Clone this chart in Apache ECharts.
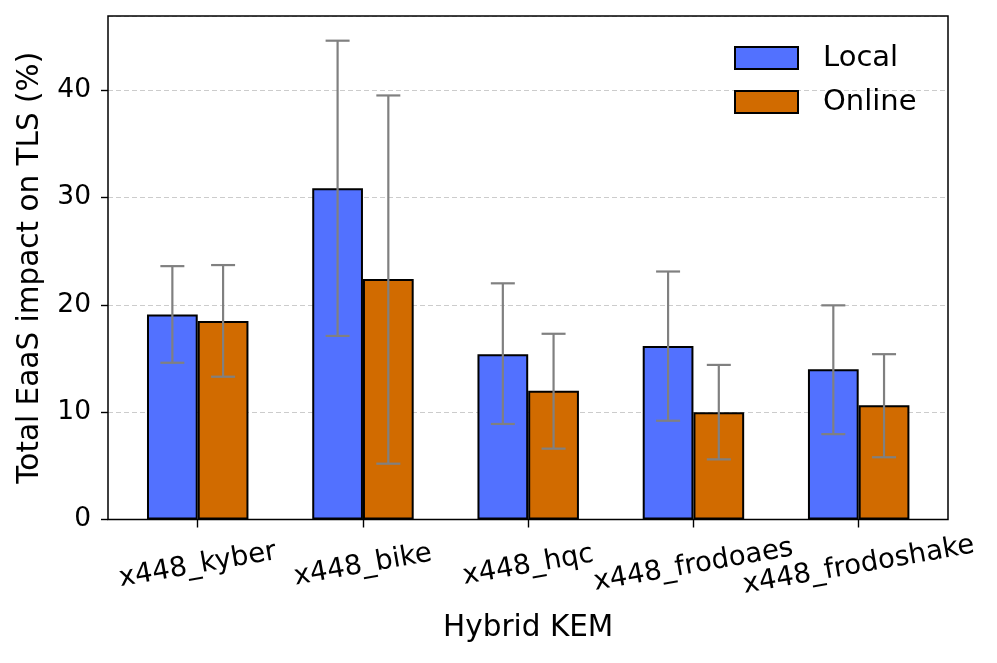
<!DOCTYPE html>
<html>
<head>
<meta charset="utf-8">
<script src="https://cdn.jsdelivr.net/npm/echarts@6/dist/echarts.min.js"></script>
<style>html,body{margin:0;padding:0;background:#fff;}#c{width:997px;height:663px;}</style>
</head>
<body>
<div id="c"></div>
<script>
const categories = ['x448_kyber', 'x448_bike', 'x448_hqc', 'x448_frodoaes', 'x448_frodoshake'];
const localValues = [19.1, 30.85, 15.4, 16.15, 14.0];
const onlineValues = [18.5, 22.4, 12.0, 10.0, 10.65];
const localLow = [14.6, 17.1, 8.9, 9.2, 7.95];
const localHigh = [23.6, 44.6, 22.0, 23.1, 19.95];
const onlineLow = [13.3, 5.2, 6.6, 5.6, 5.8];
const onlineHigh = [23.7, 39.5, 17.3, 14.4, 15.4];
const yTicks = [0, 10, 20, 30, 40];

const FONT = 'DejaVu Sans';
const BAR_FRAC = 0.307;
const YMAX = 46.9;

function errData(lo, hi) { return categories.map((c, i) => [i, lo[i], hi[i]]); }
function errRender(sign) {
  return function (params, api) {
    const i = api.value(0);
    const band = api.size([1, 0])[0];
    const off = sign * band * BAR_FRAC / 2;
    const top = api.coord([i, api.value(2)]);
    const bot = api.coord([i, api.value(1)]);
    const x = top[0] + off;
    const cap = 12;
    const st = { stroke: '#808080', lineWidth: 2.2 };
    return {
      type: 'group',
      children: [
        { type: 'line', shape: { x1: x, y1: top[1], x2: x, y2: bot[1] }, style: st },
        { type: 'line', shape: { x1: x - cap, y1: top[1], x2: x + cap, y2: top[1] }, style: st },
        { type: 'line', shape: { x1: x - cap, y1: bot[1], x2: x + cap, y2: bot[1] }, style: st }
      ]
    };
  };
}

const chart = echarts.init(document.getElementById('c'), null, { renderer: 'canvas' });
chart.setOption({
  animation: false,
  backgroundColor: '#fff',
  textStyle: { fontFamily: FONT },
  grid: [
    { left: 108, right: 49, top: 16, bottom: 143.5, show: true, z: 3, borderColor: '#000', borderWidth: 1.5, backgroundColor: 'transparent', containLabel: false },
    { left: 115.1, right: 55.7, top: 16, bottom: 143.5, containLabel: false }
  ],
  legend: {
    orient: 'vertical',
    left: 734, top: 43.5,
    padding: 0,
    itemWidth: 63, itemHeight: 22, itemGap: 15,
    icon: 'rect',
    data: ['Local', 'Online'],
    textStyle: { fontFamily: FONT, fontSize: 29, color: '#000', lineHeight: 22, padding: [0, 0, 0, 20] }
  },
  xAxis: [
    { gridIndex: 0, type: 'category', data: categories, show: false },
    {
      gridIndex: 1, type: 'category', data: categories,
      axisLine: { show: false },
      axisTick: { show: true, alignWithLabel: true, length: 8, lineStyle: { color: '#000', width: 1.4 } },
      axisLabel: { interval: 0, rotate: 10, align: 'center', verticalAlign: 'middle', margin: 46, fontFamily: FONT, fontSize: 27.5, color: '#000' },
      name: 'Hybrid KEM', nameLocation: 'middle', nameGap: 94,
      nameTextStyle: { fontFamily: FONT, fontSize: 29.5, color: '#000' }
    }
  ],
  yAxis: [
    {
      gridIndex: 0, type: 'value', min: 0, max: YMAX, interval: 10,
      axisLine: { show: false },
      axisTick: { show: true, length: 7, lineStyle: { color: '#000', width: 1.4 } },
      axisLabel: { margin: 17, fontFamily: FONT, fontSize: 26.5, color: '#000', showMaxLabel: false,
        formatter: v => (yTicks.indexOf(v) >= 0 ? String(v) : '') },
      splitLine: { show: true, lineStyle: { color: '#cccccc', type: [5, 3], width: 1 } },
      name: 'Total EaaS impact on TLS (%)', nameLocation: 'middle', nameGap: 63, nameRotate: 90,
      nameTextStyle: { fontFamily: FONT, fontSize: 29.5, color: '#000' }
    },
    { gridIndex: 1, type: 'value', min: 0, max: YMAX, show: false, splitLine: { show: false } }
  ],
  series: [
    {
      name: 'Local', type: 'bar', xAxisIndex: 1, yAxisIndex: 1,
      data: localValues, barWidth: (BAR_FRAC * 100) + '%', barGap: '0%',
      itemStyle: { color: '#5271ff', borderColor: '#000', borderWidth: 2 }
    },
    {
      name: 'Online', type: 'bar', xAxisIndex: 1, yAxisIndex: 1,
      data: onlineValues, barWidth: (BAR_FRAC * 100) + '%', barGap: '0%',
      itemStyle: { color: '#d16b00', borderColor: '#000', borderWidth: 2 }
    },
    {
      name: 'LocalErr', type: 'custom', xAxisIndex: 1, yAxisIndex: 1, z: 5,
      data: errData(localLow, localHigh), encode: { x: 0, y: [1, 2] },
      renderItem: errRender(-1)
    },
    {
      name: 'OnlineErr', type: 'custom', xAxisIndex: 1, yAxisIndex: 1, z: 5,
      data: errData(onlineLow, onlineHigh), encode: { x: 0, y: [1, 2] },
      renderItem: errRender(1)
    }
  ]
});
</script>
</body>
</html>
